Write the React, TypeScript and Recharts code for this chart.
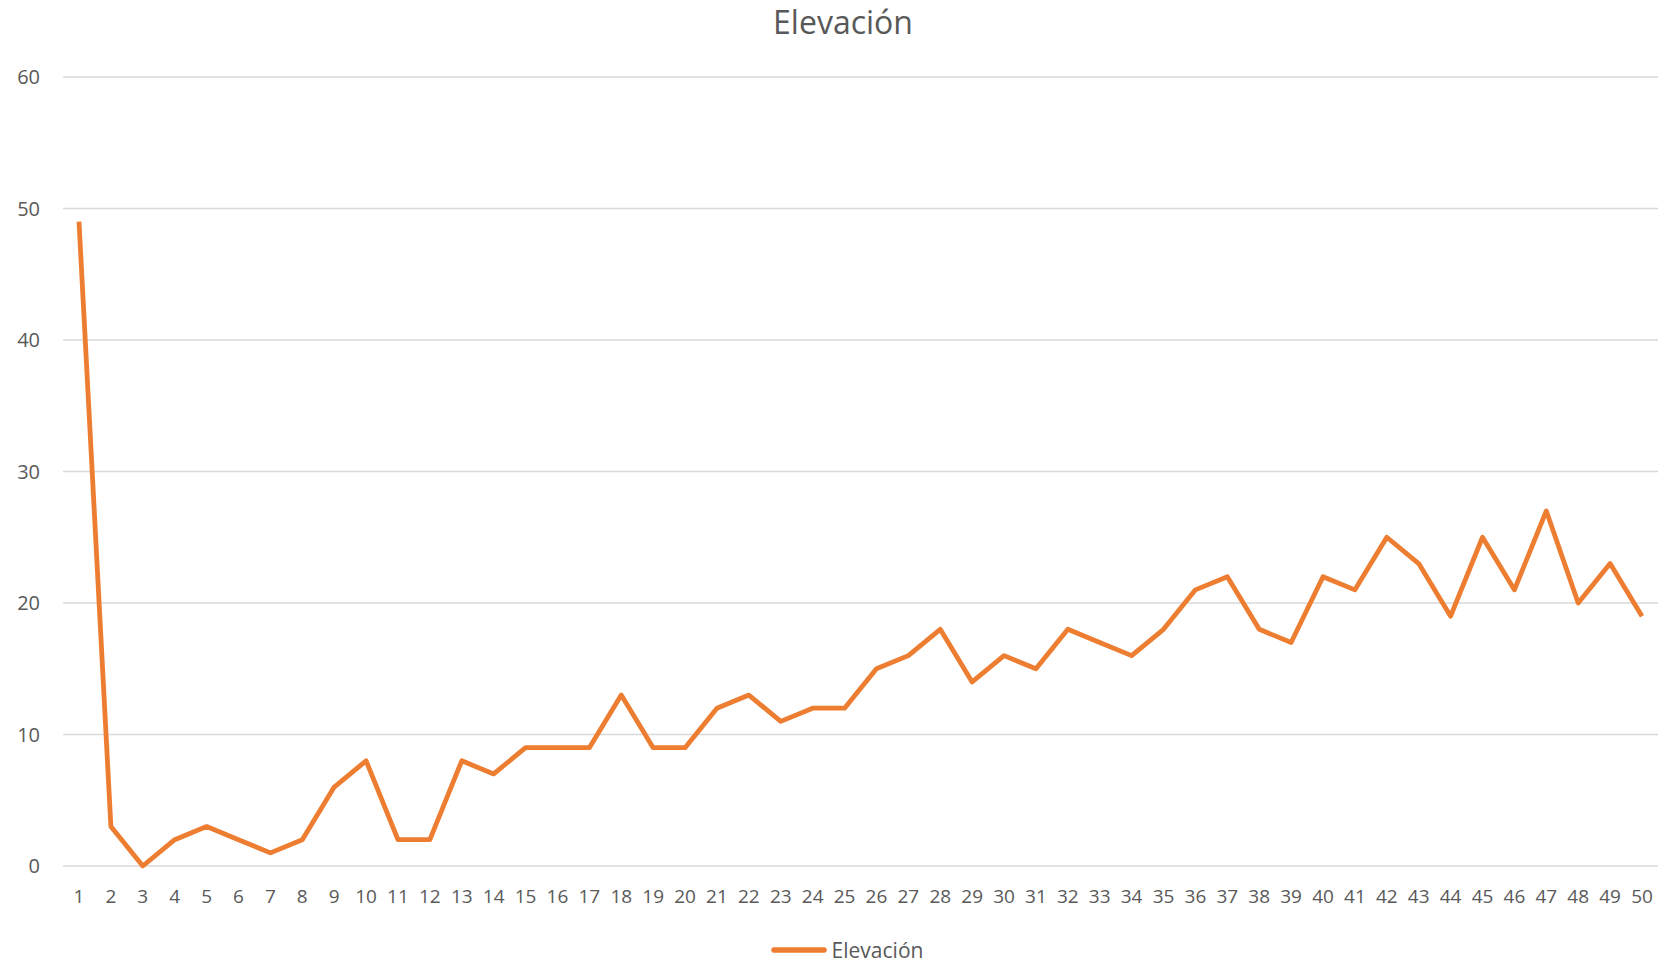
import { LineChart, Line, XAxis, YAxis, CartesianGrid, Legend } from 'recharts';

const categories = Array.from({ length: 50 }, (_, i) => String(i + 1));
const elevacion = [
  49, 3, 0, 2, 3, 2, 1, 2, 6, 8,
  2, 2, 8, 7, 9, 9, 9, 13, 9, 9,
  12, 13, 11, 12, 12, 15, 16, 18, 14, 16,
  15, 18, 17, 16, 18, 21, 22, 18, 17, 22,
  21, 25, 23, 19, 25, 21, 27, 20, 23, 19,
];
const yTicks = [0, 10, 20, 30, 40, 50, 60];

const data = categories.map((c, i) => ({ name: c, value: elevacion[i] }));

const FONT = '"Open Sans", sans-serif';
const ORANGE = '#ED7D31';
const GRAY = '#595959';

function LegendBox() {
  return (
    <div
      style={{
        height: 30, display: 'flex', justifyContent: 'center', alignItems: 'center',
        fontFamily: FONT, position: 'relative', top: 4, paddingLeft: 36,
      }}
    >
      <svg width={56} height={8} style={{ marginRight: 5 }}>
        <line x1={3} y1={4} x2={53} y2={4} stroke={ORANGE} strokeWidth={5.5} strokeLinecap="round" />
      </svg>
      <span style={{ fontSize: 21, lineHeight: '22px', color: GRAY }}>Elevación</span>
    </div>
  );
}

export default function App() {
  return (
    <div style={{ position: 'absolute', left: 0, top: 0, width: 1658, height: 961, background: '#fff' }}>
      <div
        style={{
          position: 'absolute', left: 14, width: 1658, top: 0, textAlign: 'center',
          fontFamily: FONT, fontSize: 32, color: GRAY,
        }}
      >
        Elevación
      </div>
      <LineChart width={1658} height={961} data={data} margin={{ top: 77, right: 0, left: 0, bottom: 0 }}>
        <CartesianGrid vertical={false} stroke="#d9d9d9" strokeWidth={1.5} />
        <XAxis
          dataKey="name"
          interval={0}
          padding={{ left: 16, right: 16 }}
          axisLine={false}
          tickLine={false}
          tickSize={0}
          tickMargin={24}
          height={65}
          tick={{ fill: GRAY, fontSize: 19, fontFamily: FONT }}
        />
        <YAxis
          domain={[0, 60]}
          ticks={yTicks}
          width={63}
          axisLine={false}
          tickLine={false}
          tickSize={0}
          tickMargin={23}
          tick={{ fill: GRAY, fontSize: 20, fontFamily: FONT }}
        />
        <Legend verticalAlign="bottom" height={30} content={() => <LegendBox />} />
        <Line
          dataKey="value"
          name="Elevación"
          stroke={ORANGE}
          strokeWidth={4.8}
          dot={false}
          strokeLinejoin="round"
          isAnimationActive={false}
        />
      </LineChart>
    </div>
  );
}
